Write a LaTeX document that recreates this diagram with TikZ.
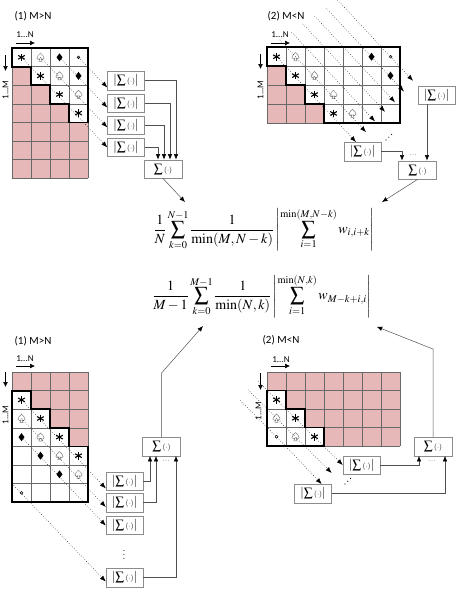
\documentclass[tikz,border=0pt]{standalone}
\usepackage{mathptmx}
\usepackage[no-math]{fontspec}
\newfontfamily\labelfont{Carlito}
\usetikzlibrary{arrows.meta}
\definecolor{cellpink}{RGB}{230,185,184}
\definecolor{gridgray}{RGB}{105,105,105}
\definecolor{boxgray}{RGB}{140,140,140}
\definecolor{wiregray}{RGB}{80,80,80}
\newcommand\abssum{$\left|\sum{\scriptscriptstyle(\cdot)}\right|$}
\newcommand\plainsum{$\sum{\scriptscriptstyle(\cdot)}$}
\tikzset{
  gridline/.style={draw=gridgray, line width=0.5pt},
  outline/.style={line width=1.8pt, line join=miter},
  absbox/.style={draw=boxgray, fill=white, minimum width=37pt, minimum height=18.5pt, inner sep=0pt, font=\fontsize{12.5}{14}\selectfont},
  sumbox/.style={absbox, minimum width=38pt},
  diag/.style={dotted, line width=0.5pt, -{Latex[length=6pt,width=4.5pt]}},
  wire/.style={draw=wiregray, line width=0.5pt, -{Latex[length=5.5pt,width=4.5pt,color=black]}},
  caption/.style={font=\labelfont\fontsize{11}{13}\selectfont},
  axlbl/.style={font=\labelfont\fontsize{9}{10}\selectfont, inner sep=0pt},
  axarrow/.style={line width=0.7pt, -{Latex[length=5pt,width=5pt]}},
  formula/.style={inner sep=0pt, font=\fontsize{14}{16}\selectfont},
  astmark/.pic={\foreach \a/\b in {90/270,30/210,150/330} \draw[line width=1.1pt] (\a:3.8pt) -- (\b:3.8pt);},
  spademark/.pic={\draw[black!50, line width=0.5pt, line join=round]
      (0pt,4.2pt) .. controls (-1pt,2.6pt) and (-4pt,1.2pt) .. (-3.6pt,-0.8pt)
      .. controls (-3.2pt,-2.6pt) and (-1.2pt,-2.6pt) .. (-0.5pt,-1.2pt)
      -- (-1.6pt,-4pt) -- (1.6pt,-4pt) -- (0.5pt,-1.2pt)
      .. controls (1.2pt,-2.6pt) and (3.2pt,-2.6pt) .. (3.6pt,-0.8pt)
      .. controls (4pt,1.2pt) and (1pt,2.6pt) .. (0pt,4.2pt) -- cycle;},
  diamark/.pic={\fill (0pt,4pt) -- (3pt,0pt) -- (0pt,-4pt) -- (-3pt,0pt) -- cycle;},
  dotmark/.pic={\draw[line width=0.5pt] (0pt,0pt) circle (1.4pt);},
}
\begin{document}
\begin{tikzpicture}[x=1pt,y=-1pt]
\useasboundingbox (0,0) rectangle (457,589);

% ---- upper left: (1) M>N
\node[caption] (tlcap) at (33,16) {(1) M>N};
\node[axlbl] (tlN) at (25,35) {1...N};
\draw[axarrow] (16,43) -- (35,43);
\draw[axarrow] (5.5,55) -- (5.5,71);
\node[axlbl, rotate=90] (tlM) at (5.5,90) {1...M};
\begin{scope}[shift={(12,48)}, x=19pt, y=-18.6pt]
  \foreach \r/\c in {1/0,2/0,2/1,3/0,3/1,3/2} \fill[cellpink] (\c,\r) rectangle ++(1,1);
  \fill[cellpink] (0,4) rectangle (4,7);
  \foreach \c in {0,...,4} \draw[gridline] (\c,0) -- (\c,7);
  \foreach \r in {0,...,7} \draw[gridline] (0,\r) -- (4,\r);
  \draw[outline] (0,0) -- (4,0) -- (4,4) -- (3,4) -- (3,3) -- (2,3) -- (2,2) -- (1,2) -- (1,1) -- (0,1) -- cycle;
  \foreach \k in {0,...,3} \coordinate (tl\k) at (\k+.5,.5);
  \foreach \i in {0,...,3} \pic at (\i+.5,\i+.5) {astmark};
  \foreach \i in {0,...,2} \pic at (\i+1.5,\i+.5) {spademark};
  \foreach \i in {0,1} \pic at (\i+2.5,\i+.5) {diamark};
  \pic at (3.5,.5) {dotmark};
\end{scope}
\node[absbox] (tlA) at (126,80.5) {\abssum};
\node[absbox] (tlB) at (126,103) {\abssum};
\node[absbox] (tlC) at (126,125) {\abssum};
\node[absbox] (tlD) at (126,147) {\abssum};
\node[sumbox] (tlS) at (163,169) {\plainsum};
\draw[diag] (tl3) -- ([yshift=-7pt]tlA.west);
\draw[diag] (tl2) -- ([yshift=-4.5pt]tlB.west);
\draw[diag] (tl1) -- ([yshift=-2.4pt]tlC.west);
\draw[diag] (tl0) -- ([yshift=-0.4pt]tlD.west);
\draw[wire] (tlA.east) -| ([xshift=13pt]tlS.north);
\draw[wire] (tlB.east) -| ([xshift=7pt]tlS.north);
\draw[wire] (tlC.east) -| ([xshift=1pt]tlS.north);
\draw[wire] (tlD.east) -| ([xshift=-5pt]tlS.north);

% ---- upper right: (2) M<N
\node[caption] (trcap) at (286,16) {(2) M<N};
\node[axlbl] (trN) at (280,35) {1...N};
\draw[axarrow] (271,43) -- (290,43);
\draw[axarrow] (260.5,54) -- (260.5,69);
\node[axlbl, rotate=90] (trM) at (260.5,90) {1...M};
\begin{scope}[shift={(267,47.3)}, x=19pt, y=-18.9pt]
  \foreach \r/\c in {1/0,2/0,2/1,3/0,3/1,3/2} \fill[cellpink] (\c,\r) rectangle ++(1,1);
  \foreach \c in {0,...,7} \draw[gridline] (\c,0) -- (\c,4);
  \foreach \r in {0,...,4} \draw[gridline] (0,\r) -- (7,\r);
  \draw[outline] (0,0) -- (7,0) -- (7,4) -- (3,4) -- (3,3) -- (2,3) -- (2,2) -- (1,2) -- (1,1) -- (0,1) -- cycle;
  \foreach \k in {0,...,6} \coordinate (tr\k) at (\k+.5,.5);
  \foreach \i in {0,...,3} \pic at (\i+.5,\i+.5) {astmark};
  \foreach \i in {0,...,3} \pic at (\i+1.5,\i+.5) {spademark};
  \foreach \i in {0,1} \pic at (\i+5.5,\i+.5) {diamark};
  \pic at (6.5,.5) {dotmark};
\end{scope}
\node[absbox] (trA) at (436.5,95) {\abssum};
\node[absbox] (trB) at (362.5,151.5) {\abssum};
\node[sumbox] (trS) at (417.5,170) {\plainsum};
\foreach \k/\sx/\sy/\ex/\ey in {1/279.9/40/366/132.1, 2/291.4/32/375/121.4,
    3/302.9/24/385/111.8, 4/314.5/16/395/102.2, 5/326/8/404/91.5, 6/337.5/0/413/80.8} {
  \coordinate (trin\k) at (\ex,\ey);
  \draw[diag] (\sx,\sy) -- (tr\k) -- (trin\k);
}
\draw[diag] (tr0) -- ([xshift=-6.5pt]trB.north);
\draw[wire] ([xshift=-9.5pt]trA.south) -- ([xshift=9.5pt]trS.north);
\draw[wire] (trB.east) -| ([xshift=-15.5pt]trS.north);
\node[inner sep=0pt, font=\scriptsize] (trdots) at (413,155) {$\cdots$};
\foreach \i in {0,1,2} \fill (386+2.8*\i,140-2.8*\i) circle (0.6);

% ---- the two measures
\node[formula] (f1) at (264,229.5) {$\displaystyle \frac{1}{N}\sum_{k=0}^{N-1}\frac{1}{\min(M,N-k)}\left|\sum_{i=1}^{\min(M,N-k)} w_{i,i+k}\right|$};
\node[formula] (f2) at (262,296) {$\displaystyle \frac{1}{M-1}\sum_{k=0}^{M-1}\frac{1}{\min(N,k)}\left|\sum_{i=1}^{\min(N,k)} w_{M-k+i,i}\right|$};
\coordinate (f1inL) at (185,202);
\coordinate (f1inR) at (382,202);
\coordinate (f2inL) at (203,326);
\coordinate (f2inR) at (376.7,326.7);
\draw[wire] (tlS.south) -- (f1inL);
\draw[wire] (trS.south) -- (f1inR);

% ---- lower left: (1) M>N
\node[caption] (blcap) at (33,341) {(1) M>N};
\node[axlbl] (blN) at (25,359) {1...N};
\draw[axarrow] (16,366) -- (35,366);
\draw[axarrow] (5.5,372) -- (5.5,387);
\node[axlbl, rotate=90] (blM) at (5.5,415) {1...M};
\begin{scope}[shift={(12,372)}, x=19pt, y=-18.6pt]
  \foreach \r/\c in {0/0,0/1,0/2,0/3,1/1,1/2,1/3,2/2,2/3,3/3} \fill[cellpink] (\c,\r) rectangle ++(1,1);
  \foreach \c in {0,...,4} \draw[gridline] (\c,0) -- (\c,7);
  \foreach \r in {0,...,7} \draw[gridline] (0,\r) -- (4,\r);
  \draw[outline] (0,1) -- (1,1) -- (1,2) -- (2,2) -- (2,3) -- (3,3) -- (3,4) -- (4,4) -- (4,7) -- (0,7) -- cycle;
  \foreach \k in {1,2,3} \coordinate (bl\k) at (.5,\k+.5);
  \coordinate (bl6) at (0,6);
  \foreach \i in {0,...,3} \pic at (\i+.5,\i+1.5) {astmark};
  \foreach \i in {0,...,3} \pic at (\i+.5,\i+2.5) {spademark};
  \foreach \i in {0,...,2} \pic at (\i+.5,\i+3.5) {diamark};
  \pic at (.5,6.5) {dotmark};
\end{scope}
\node[absbox] (blA) at (124.5,481) {\abssum};
\node[absbox] (blB) at (124.5,502.5) {\abssum};
\node[absbox] (blC) at (124.5,525) {\abssum};
\node[absbox] (blD) at (124.5,577.5) {\abssum};
\node[sumbox] (blS) at (161.5,446.5) {\plainsum};
\draw[diag] (bl1) -- ([yshift=-7.4pt]blA.west);
\draw[diag] (bl2) -- ([yshift=-4.5pt]blB.west);
\draw[diag] (bl3) -- ([yshift=-0.6pt]blC.west);
\draw[diag] (bl6) -- ([yshift=-4.1pt]blD.west);
\draw[wire] (blA.east) -| ([xshift=-11.5pt]blS.south);
\draw[wire] (blB.east) -| ([xshift=-5.5pt]blS.south);
\draw[wire] (blD.east) -| ([xshift=14.5pt]blS.south);
\node[inner sep=0pt, font=\scriptsize] (bldots) at (166,461) {$\cdots$};
\node[inner sep=0pt] (blvdots) at (124,552) {$\vdots$};
\draw[wire] (blS.north) -- ++(0,-64) -- (f2inL);

% ---- lower right: (2) M<N
\node[caption] (brcap) at (281,340) {(2) M<N};
\node[axlbl] (brN) at (281,360) {1...N};
\draw[axarrow] (271,366) -- (290,366);
\draw[axarrow] (260.5,373) -- (260.5,390);
\node[axlbl, rotate=90] (brM) at (258.5,411) {1...M};
\begin{scope}[shift={(267,372)}, x=19pt, y=-18.5pt]
  \fill[cellpink] (0,0) rectangle (7,1);
  \fill[cellpink] (1,1) rectangle (7,2);
  \fill[cellpink] (2,2) rectangle (7,3);
  \fill[cellpink] (3,3) rectangle (7,4);
  \foreach \c in {0,...,7} \draw[gridline] (\c,0) -- (\c,4);
  \foreach \r in {0,...,4} \draw[gridline] (0,\r) -- (7,\r);
  \draw[outline] (0,1) -- (1,1) -- (1,2) -- (2,2) -- (2,3) -- (3,3) -- (3,4) -- (0,4) -- cycle;
  \foreach \k in {1,2,3} \coordinate (br\k) at (.5,\k+.5);
  \foreach \i in {0,...,2} \pic at (\i+.5,\i+1.5) {astmark};
  \foreach \i in {0,1} \pic at (\i+.5,\i+2.5) {spademark};
  \pic at (.5,3.5) {dotmark};
\end{scope}
\node[absbox] (brA) at (361.5,465) {\abssum};
\node[absbox] (brB) at (313,493.5) {\abssum};
\node[sumbox] (brS) at (433,446.5) {\plainsum};
\coordinate (brin2) at (331.7,473);
\draw[diag] (258,381.25) -- (br1) -- (brA.west);
\draw[diag] (248,389.75) -- (br2) -- (brin2);
\draw[diag] (240,400.25) -- (br3) -- ([xshift=8.7pt]brB.north);
\draw[wire] (brA.east) -| ([xshift=-14pt]brS.south);
\draw[wire] (brB.east) -| ([xshift=12pt]brS.south);
\node[inner sep=0pt, font=\scriptsize] (brdots) at (432,461) {$\cdots$};
\foreach \i in {0,1,2} \fill (345+2.8*\i,484-2.8*\i) circle (0.6);
\draw[wire] (brS.north) -- ++(0,-88) -- (f2inR);
\end{tikzpicture}
\end{document}
